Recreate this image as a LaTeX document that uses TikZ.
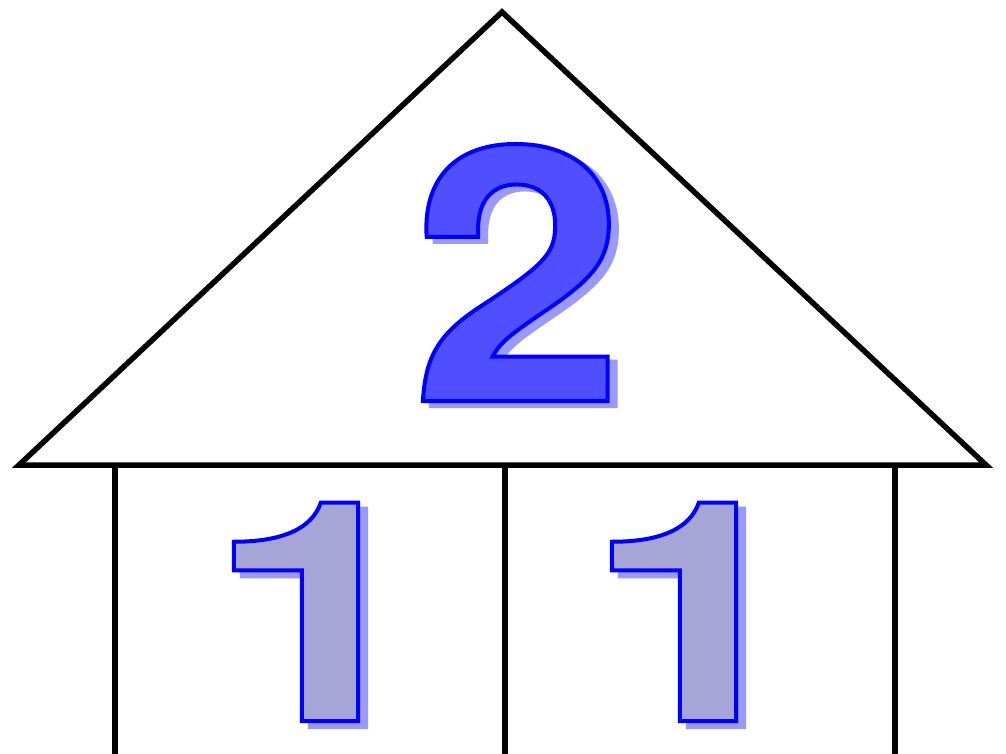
\documentclass[tikz,border=0pt]{standalone}
\usepackage{fontspec}
\setmainfont{TeX Gyre Heros}
\newfontfamily\twofont[FakeStretch=1.08]{TeX Gyre Heros}
\newfontfamily\onefont[FakeStretch=1.3]{TeX Gyre Heros}
\definecolor{shadowc}{HTML}{9999FF}
\definecolor{twoc}{HTML}{4F4FFF}
\definecolor{onec}{HTML}{A5A5D8}
\newcommand{\outlined}[2]{\special{pdf:literal direct #1 RG 2 Tr 4 w}#2\special{pdf:literal direct 0 Tr}}
\tikzset{
  wall/.style={line width=5.5pt, black},
  digit/.style={anchor=base, inner sep=0pt, font=\twofont\bfseries\fontsize{355}{355}\selectfont},
  digitone/.style={anchor=base, inner sep=0pt, font=\onefont\bfseries\fontsize{308}{308}\selectfont}
}
\begin{document}
\begin{tikzpicture}[x=1pt,y=-1pt]
\useasboundingbox (0,0) rectangle (1006,754);
\draw[wall, line join=miter] (19,465) -- (502,12) -- (986,465) -- cycle;
\draw[wall] (115,465) -- (115,756);
\draw[wall] (505,465) -- (505,756);
\draw[wall] (895,465) -- (895,756);
% digit 2
\node[digit, text=shadowc] (twos) at (526,406) {\outlined{0.6 0.6 1}{2}};
\node[digit, text=twoc] (two) at (518,401) {\outlined{0 0 1}{2}};
% digits 1
\node[digitone, text=shadowc] (ones1) at (326,727) {\outlined{0.6 0.6 1}{1}};
\node[digitone, text=onec] (one1) at (318,721) {\outlined{0 0 1}{1}};
\node[digitone, text=shadowc] (ones2) at (704,727) {\outlined{0.6 0.6 1}{1}};
\node[digitone, text=onec] (one2) at (696,721) {\outlined{0 0 1}{1}};
\end{tikzpicture}
\end{document}
